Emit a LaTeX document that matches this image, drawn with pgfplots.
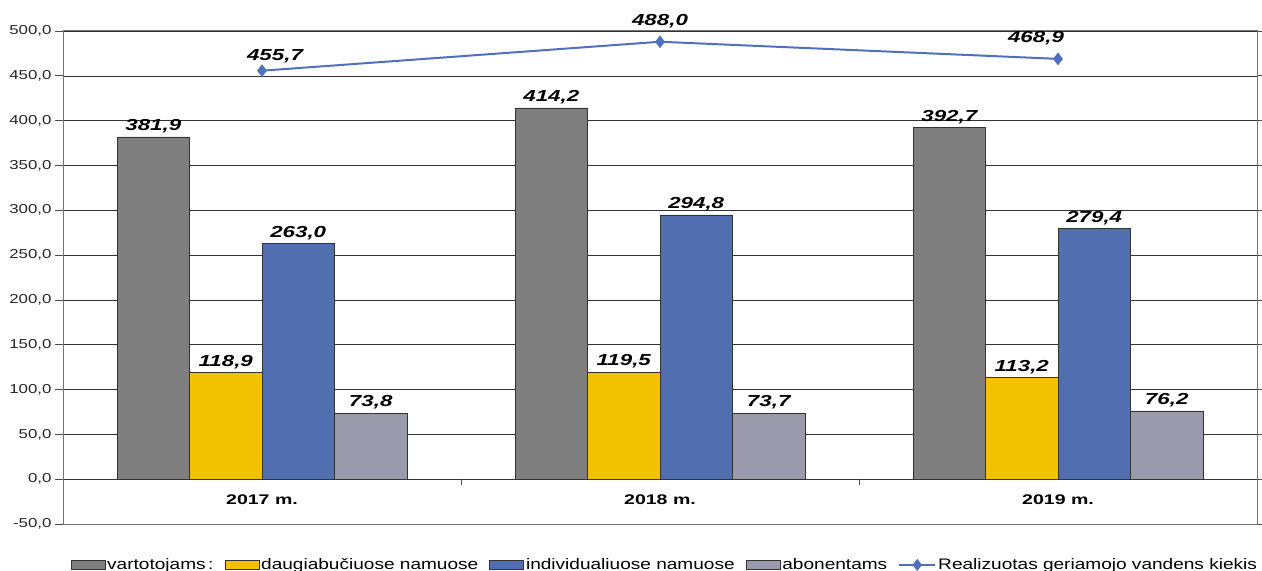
\documentclass[border=0pt]{standalone}
\usepackage{pgfplots}
\pgfplotsset{compat=1.18}
\usepackage{pgfplotstable}
\usepackage{fontspec}
\setmainfont{Liberation Sans}
\newfontfamily\wide[FakeStretch=1.3]{Liberation Sans}
\newfontfamily\wider[FakeStretch=1.4]{Liberation Sans}
\newfontfamily\legfont[FakeStretch=1.25]{Liberation Sans}
\definecolor{cgray}{HTML}{7F7F7F}
\definecolor{cyellow}{HTML}{F2C200}
\definecolor{cblue}{HTML}{506EB0}
\definecolor{clight}{HTML}{9A9AAC}
\definecolor{cline}{HTML}{4F6FBF}
\pgfplotstableread{
x y dx dy
0 455.7 13 0
1 488.0 0 6
2 468.9 -22 6
}\linedata
\begin{document}
\begin{tikzpicture}[x=1bp,y=1bp]
\begin{axis}[
  scale only axis, width=1194bp, height=493bp,
  at={(0,0)}, anchor=south west,
  xmin=-0.5, xmax=2.5, ymin=-50, ymax=500,
  xtick={0,1,2}, xticklabels={2017 m.,2018 m.,2019 m.},
  xtick style={draw=none},
  xticklabel style={font=\wider\fontsize{14}{16}\selectfont\bfseries, yshift=41bp},
  ytick={-50,0,...,500},
  ytick style={draw=black!70, line width=0.8pt},
  tick align=outside, major tick length=8bp,
  yticklabel style={font=\wide\fontsize{13}{15}\selectfont, text=black!85},
  /pgf/number format/.cd, fixed, fixed zerofill, precision=1, use comma, assume math mode=true,
  /pgfplots/.cd,
  ymajorgrids, grid style={black!80, line width=0.6pt},
  axis line style={draw=black!55, line width=1pt},
  clip=false,
  legend style={at={(0.504,-0.083)}, anchor=center, draw=none, fill=none,
    font=\legfont\fontsize{15.3}{17}\selectfont, legend columns=5,
    /tikz/every even column/.append style={column sep=9bp}},
  legend cell align=left,
  nodes near coords style={font=\wider\fontsize{16}{18}\selectfont\bfseries\itshape, text=black},
]
\addplot[ybar, bar width=0.182, bar shift=-0.273, fill=cgray, draw=black!80, line width=0.7pt,
  nodes near coords, nodes near coords style={xshift=-108.7bp},
  legend image code/.code={\draw[fill=cgray,draw=black!80,line width=0.7pt] (0bp,-4.5bp) rectangle (34bp,5bp);}]
  coordinates {(0,381.9) (1,414.2) (2,392.7)};
\addlegendentry{vartotojams\,:}
\addplot[ybar, bar width=0.182, bar shift=-0.091, fill=cyellow, draw=black!80, line width=0.7pt,
  nodes near coords, nodes near coords style={xshift=-36.2bp},
  legend image code/.code={\draw[fill=cyellow,draw=black!80,line width=0.7pt] (0bp,-4.5bp) rectangle (34bp,5bp);}]
  coordinates {(0,118.9) (1,119.5) (2,113.2)};
\addlegendentry{daugiabučiuose namuose}
\addplot[ybar, bar width=0.182, bar shift=0.091, fill=cblue, draw=black!80, line width=0.7pt,
  nodes near coords, nodes near coords style={xshift=36.2bp},
  legend image code/.code={\draw[fill=cblue,draw=black!80,line width=0.7pt] (0bp,-4.5bp) rectangle (34bp,5bp);}]
  coordinates {(0,263.0) (1,294.8) (2,279.4)};
\addlegendentry{individualiuose namuose}
\addplot[ybar, bar width=0.182, bar shift=0.273, fill=clight, draw=black!80, line width=0.7pt,
  nodes near coords, nodes near coords style={xshift=108.7bp},
  legend image code/.code={\draw[fill=clight,draw=black!80,line width=0.7pt] (0bp,-4.5bp) rectangle (34bp,5bp);}]
  coordinates {(0,73.8) (1,73.7) (2,76.2)};
\addlegendentry{abonentams}
\addplot[sharp plot, color=cline, line width=2pt, mark=diamond*, mark size=6bp,
  mark options={fill=cline, draw=cline, line width=0.5pt},
  nodes near coords, point meta=explicit,
  visualization depends on={\thisrow{dx} \as \dx},
  visualization depends on={\thisrow{dy} \as \dy},
  nodes near coords style={xshift=\dx bp, yshift=4bp+\dy bp},
  legend image code/.code={\draw[cline,line width=2pt] (0bp,0bp) -- (36bp,0bp);
     \fill[cline] (18bp,0bp) +(0,4.5bp) -- +(3.5bp,0) -- +(0,-4.5bp) -- +(-3.5bp,0) -- cycle;}]
  table[x=x, y=y, meta=y] {\linedata};
\addlegendentry{Realizuotas geriamojo vandens kiekis}
\draw[black!70, line width=0.8pt] (axis cs:0.5,0) -- (axis cs:0.5,-6.5);
\draw[black!70, line width=0.8pt] (axis cs:1.5,0) -- (axis cs:1.5,-6.5);
\end{axis}
\pgfresetboundingbox
\path[use as bounding box] (-63bp,-47bp) rectangle (1199bp,524bp);
\end{tikzpicture}
\end{document}
